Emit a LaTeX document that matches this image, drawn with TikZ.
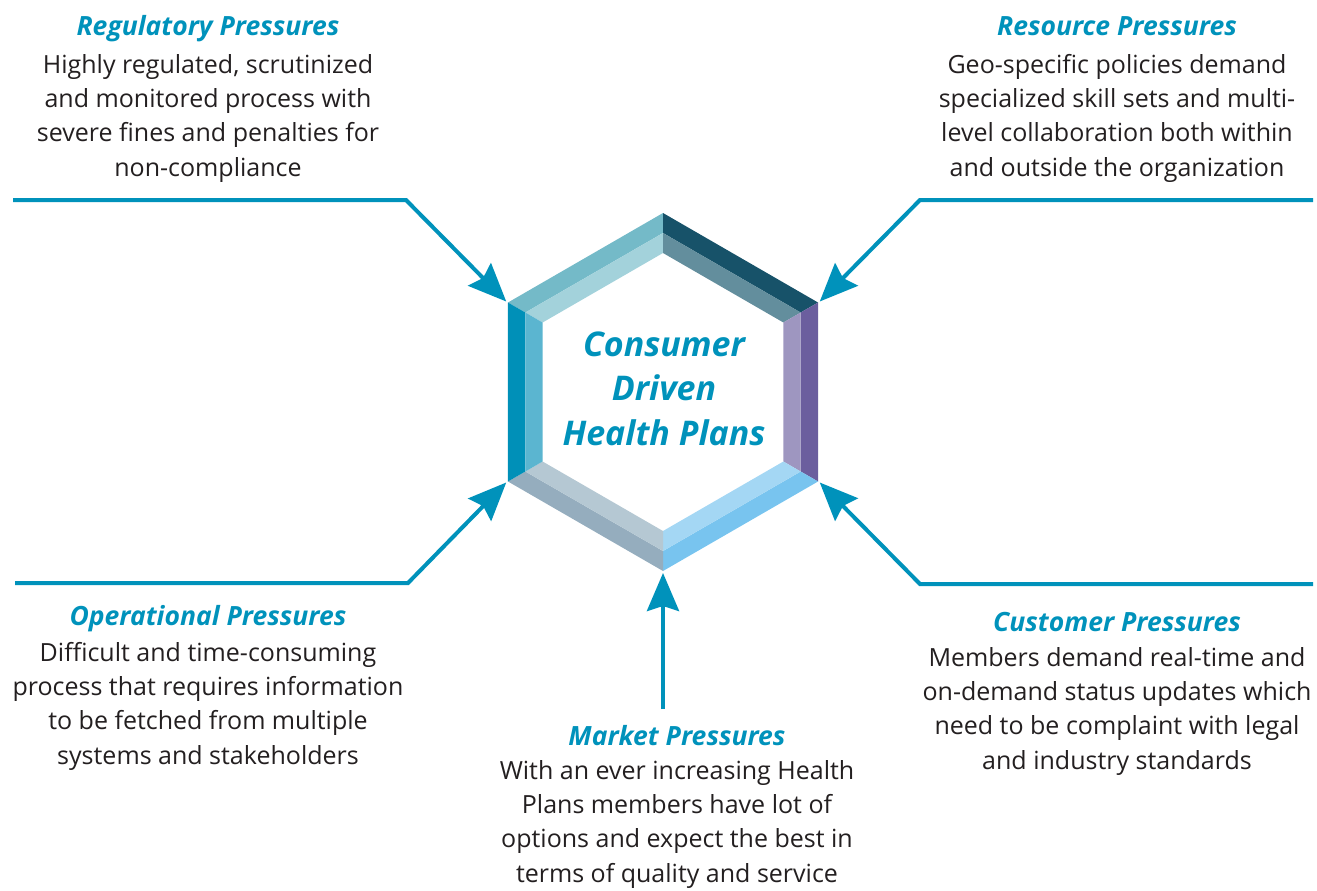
\documentclass[tikz,border=0pt]{standalone}
\usepackage{fontspec}
\setmainfont{Open Sans}
\usepackage{tikz}
\usetikzlibrary{arrows.meta}
\definecolor{pressure}{HTML}{0092BB}
\definecolor{ink}{HTML}{231F20}
% ring colours, outer band / inner band per side
\definecolor{hexA}{HTML}{74BAC8}\definecolor{hexAi}{HTML}{A3D2DB}
\definecolor{hexB}{HTML}{175269}\definecolor{hexBi}{HTML}{638E9D}
\definecolor{hexC}{HTML}{6B5E9E}\definecolor{hexCi}{HTML}{9E96C0}
\definecolor{hexD}{HTML}{78C4EF}\definecolor{hexDi}{HTML}{A4D7F4}
\definecolor{hexE}{HTML}{95ADBE}\definecolor{hexEi}{HTML}{B5C8D3}
\definecolor{hexF}{HTML}{0090B8}\definecolor{hexFi}{HTML}{5BB5D0}
\tikzset{>={Stealth[length=38pt, width=32pt, inset=5pt]}}
\tikzset{
  push/.style={->, draw=pressure, line width=4pt},
  head/.style={font=\fontsize{26.5}{28}\selectfont\bfseries\itshape,
    text=pressure, inner sep=0pt, anchor=base},
  blurb/.style={font=\fontsize{25}{34.3}\selectfont, text=ink,
    align=center, inner sep=0pt, anchor=base},
  hubtext/.style={font=\fontsize{34}{44.5}\selectfont\bfseries\itshape,
    text=pressure, align=center, inner sep=0pt, anchor=base}
}
\begin{document}
\begin{tikzpicture}[x=1pt, y=-1pt]
  \useasboundingbox (0,0) rectangle (1317,891);
  % hexagon ring
  \begin{scope}[shift={(663,392)}]
    \foreach \a/\co/\ci in {210/hexA/hexAi, 270/hexB/hexBi, 330/hexC/hexCi,
                            30/hexD/hexDi, 90/hexE/hexEi, 150/hexF/hexFi} {
      \fill[\co] (\a:179) -- (\a+60:179) -- (\a+60:159) -- (\a:159) -- cycle;
      \fill[\ci] (\a:159) -- (\a+60:159) -- (\a+60:139) -- (\a:139) -- cycle;
    }
    \foreach \a in {30,90,150,210,270,330}
      \coordinate (v\a) at (\a:181);
  \end{scope}
  % base anchor sits on the last line
  \node[hubtext] (hub) at (664,445) {Consumer\\Driven\\Health Plans};

  % pressure arrows
  \coordinate (regStart) at (13,200);  \coordinate (regBend) at (406,200);
  \coordinate (resStart) at (1313,200); \coordinate (resBend) at (920,200);
  \coordinate (opsStart) at (15,583);  \coordinate (opsBend) at (408,583);
  \coordinate (cusStart) at (1313,584); \coordinate (cusBend) at (920,584);
  \coordinate (mktStart) at (663,709);
  \draw[push] (regStart) -- (regBend) -- (v210);
  \draw[push] (resStart) -- (resBend) -- (v330);
  \draw[push] (opsStart) -- (opsBend) -- (v150);
  \draw[push] (cusStart) -- (cusBend) -- (v30);
  \draw[push] (mktStart) -- (v90);

  % labels
  \node[head] (regT) at (208,36) {Regulatory Pressures};
  \node[blurb] (regB) at (208,176) {Highly regulated, scrutinized\\and monitored process with\\severe fines and penalties for\\non-compliance};
  \node[head] (resT) at (1117,36) {Resource Pressures};
  \node[blurb] (resB) at (1117,176) {Geo-specific policies demand\\specialized skill sets and multi-\\level collaboration both within\\and outside the organization};
  \node[head] (opsT) at (208,625) {Operational Pressures};
  \node[blurb] (opsB) at (208,764) {Difficult and time-consuming\\process that requires information\\to be fetched from multiple\\systems and stakeholders};
  \node[head] (cusT) at (1117,631) {Customer Pressures};
  \node[blurb] (cusB) at (1117,769) {Members demand real-time and\\on-demand status updates which\\need to be complaint with legal\\and industry standards};
  \node[head] (mktT) at (677,745) {Market Pressures};
  \node[blurb] (mktB) at (677,882) {With an ever increasing Health\\Plans members have lot of\\options and expect the best in\\terms of quality and service};
\end{tikzpicture}
\end{document}
